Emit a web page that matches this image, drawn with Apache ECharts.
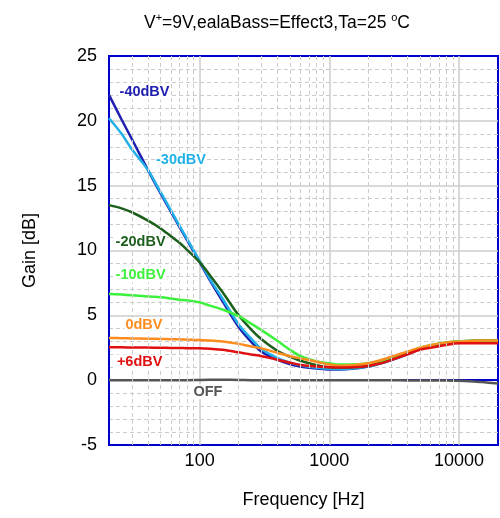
<!DOCTYPE html>
<html>
<head>
<meta charset="utf-8">
<script src="https://cdn.jsdelivr.net/npm/echarts@6/dist/echarts.min.js"></script>
<style>
  html, body { margin: 0; padding: 0; background: #fff; }
  #chart { width: 500px; height: 518px; }
</style>
</head>
<body>
<div id="chart"></div>
<script>
// frequency points (Hz)
const freq = [20, 25, 30, 40, 50, 60, 70, 80, 100, 120, 150, 200, 250, 300, 400, 500, 600, 800,
  1000, 1200, 1500, 2000, 2500, 3000, 4000, 5000, 6000, 8000, 10000, 12000, 15000, 20000];

// gain [dB] per input level
const gainM40 = [22.0, 20.1, 18.6, 16.2, 14.4, 13.0, 11.8, 10.8, 9.1, 7.7, 6.1, 4.1, 2.95, 2.2, 1.56, 1.22, 1.05, 0.9,
  0.82, 0.82, 0.88, 1.05, 1.3, 1.55, 2.0, 2.4, 2.6, 2.85, 2.97, 3.0, 3.02, 3.02];
const gainM30 = [20.2, 19.0, 17.8, 16.2, 14.5, 13.1, 11.9, 10.9, 9.2, 7.8, 6.3, 4.3, 3.2, 2.4, 1.7, 1.35, 1.15, 0.95,
  0.88, 0.86, 0.9, 1.05, 1.3, 1.55, 2.0, 2.4, 2.6, 2.85, 2.97, 3.0, 3.02, 3.02];
const gainM20 = [13.5, 13.25, 12.95, 12.3, 11.7, 11.1, 10.6, 10.05, 9.1, 8.1, 6.8, 5.0, 3.9, 3.15, 2.25, 1.8, 1.5, 1.15,
  1.0, 0.98, 1.0, 1.1, 1.35, 1.6, 2.05, 2.45, 2.65, 2.88, 3.0, 3.03, 3.05, 3.05];
const gainM10 = [6.65, 6.6, 6.55, 6.45, 6.4, 6.3, 6.2, 6.15, 6.0, 5.75, 5.45, 4.93, 4.35, 3.86, 3.02, 2.33, 1.85, 1.45,
  1.3, 1.2, 1.2, 1.3, 1.5, 1.75, 2.15, 2.5, 2.7, 2.9, 3.0, 3.03, 3.05, 3.05];
const gain0 = [3.25, 3.24, 3.22, 3.2, 3.18, 3.16, 3.15, 3.13, 3.1, 3.05, 2.98, 2.8, 2.6, 2.45, 2.1, 1.85, 1.68, 1.42,
  1.2, 1.12, 1.15, 1.3, 1.55, 1.8, 2.2, 2.5, 2.7, 2.9, 2.97, 3.02, 3.05, 3.05];
const gainP6 = [2.54, 2.53, 2.52, 2.51, 2.5, 2.49, 2.48, 2.47, 2.46, 2.42, 2.35, 2.15, 1.98, 1.85, 1.58, 1.35, 1.17, 1.05,
  1.0, 0.98, 1.0, 1.1, 1.3, 1.55, 2.0, 2.35, 2.5, 2.72, 2.84, 2.84, 2.84, 2.84];
const gainOff = [0, 0, 0, 0, 0, 0, 0, 0, 0.02, 0.03, 0.03, 0.02, 0, 0, 0, 0, 0, 0,
  0, 0, 0, 0, 0, 0, -0.02, -0.02, -0.03, -0.03, -0.05, -0.08, -0.15, -0.25];

// minor vertical grid lines (Hz)
const minorFreq = [30, 40, 50, 60, 70, 80, 90, 200, 300, 400, 500, 600, 700, 800, 900,
  2000, 3000, 4000, 5000, 6000, 7000, 8000, 9000];

const levels = [
  { name: '-40dBV', data: gainM40, color: '#2020b0', label: [23.7, 22.2] },
  { name: '-30dBV', data: gainM30, color: '#22b0e8', label: [45.3, 17.0] },
  { name: '-20dBV', data: gainM20, color: '#1d5f1d', label: [22.1, 10.65] },
  { name: '-10dBV', data: gainM10, color: '#3cf03c', label: [22.1, 8.1] },
  { name: '0dBV', data: gain0, color: '#ff8c1e', label: [26.3, 4.26] },
  { name: '+6dBV', data: gainP6, color: '#e01010', label: [22.6, 1.4] },
  { name: 'OFF', data: gainOff, color: '#555555', label: [88, -0.9] }
];

const font = 'Liberation Sans, Arial, sans-serif';
const gridGray = '#cccccc';

let chart = echarts.init(document.getElementById('chart'));

let series = [{
  type: 'line',
  data: [],
  silent: true,
  z: 1,
  markLine: {
    silent: true,
    symbol: 'none',
    label: { show: false },
    lineStyle: { color: gridGray, type: [4, 3], width: 1 },
    data: minorFreq.map(f => ({ xAxis: f }))
  }
}];

levels.forEach(lv => {
  series.push({
    name: lv.name,
    type: 'line',
    smooth: 0.3,
    showSymbol: false,
    z: 3,
    lineStyle: { color: lv.color, width: 2.5 },
    itemStyle: { color: lv.color },
    data: freq.map((f, i) => [f, lv.data[i]]),
    markPoint: {
      symbol: 'circle',
      symbolSize: 0,
      z: 5,
      label: {
        show: true,
        position: 'right',
        distance: 0,
        formatter: lv.name,
        color: lv.name === 'OFF' ? '#555' : lv.color,
        fontFamily: font,
        fontWeight: 'bold',
        fontSize: 14.5,
        backgroundColor: '#fff',
        padding: [0, 1]
      },
      data: [{ coord: lv.label }]
    }
  });
});

let option = {
  animation: false,
  backgroundColor: '#fff',
  title: {
    text: '{a|V}{s|+}{a|=9V,ealaBass=Effect3,Ta=25 }{s|o}{a|C}',
    left: 139,
    top: 7,
    textStyle: {
      fontWeight: 'normal',
      rich: {
        a: { fontFamily: font, fontSize: 17.5, fontWeight: 'normal', color: '#000', lineHeight: 22 },
        s: { fontFamily: font, fontSize: 11, fontWeight: 'normal', color: '#000', lineHeight: 11, verticalAlign: 'top' }
      }
    }
  },
  grid: {
    left: 109,
    right: 2,
    top: 56,
    bottom: 73,
    show: true,
    borderColor: '#0000cc',
    borderWidth: 2
  },
  xAxis: {
    type: 'log',
    logBase: 10,
    min: 20,
    max: 20000,
    name: 'Frequency [Hz]',
    nameLocation: 'middle',
    nameGap: 46,
    nameTextStyle: { fontFamily: font, fontSize: 18, color: '#000' },
    axisLine: { show: true, lineStyle: { color: '#0000cc', width: 2 } },
    axisTick: { show: false },
    axisLabel: {
      fontFamily: font, fontSize: 18, color: '#000', margin: 7,
      showMinLabel: false, showMaxLabel: false,
      formatter: v => ([100, 1000, 10000].indexOf(Math.round(v)) >= 0 ? String(Math.round(v)) : '')
    },
    splitLine: { show: true, showMinLine: false, showMaxLine: false, lineStyle: { color: gridGray, width: 1.5 } }
  },
  yAxis: {
    type: 'value',
    min: -5,
    max: 25,
    interval: 5,
    name: 'Gain [dB]',
    nameLocation: 'middle',
    nameGap: 70,
    nameRotate: 90,
    nameTextStyle: { fontFamily: font, fontSize: 18, color: '#000' },
    axisLine: { show: true, lineStyle: { color: '#0000cc', width: 2 } },
    axisTick: { show: false },
    axisLabel: { fontFamily: font, fontSize: 18, color: '#000', margin: 12 },
    splitLine: { show: true, showMinLine: false, showMaxLine: false, lineStyle: { color: gridGray, width: 1.5 } },
    minorTick: { show: false, splitNumber: 5 },
    minorSplitLine: { show: true, lineStyle: { color: gridGray, type: [4, 3], width: 1 } }
  },
  series: series
};

chart.setOption(option);
</script>
</body>
</html>
